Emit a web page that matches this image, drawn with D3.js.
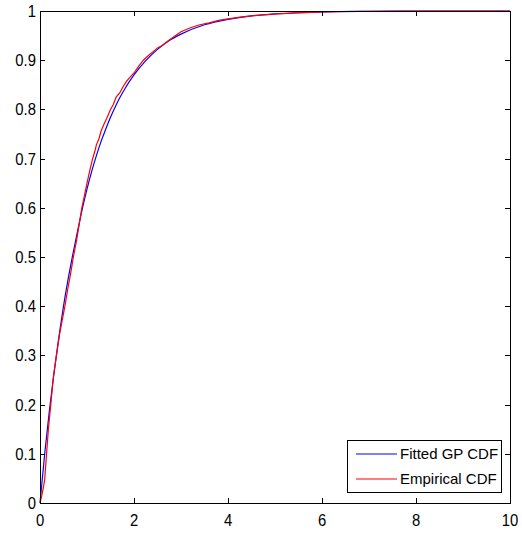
<!DOCTYPE html>
<html>
<head>
<meta charset="utf-8">
<script src="https://cdn.jsdelivr.net/npm/d3@7"></script>
<style>
  html, body { margin: 0; padding: 0; background: #fff; }
  svg { display: block; }
  text { font-family: "Liberation Sans", Arial, Helvetica, sans-serif; fill: #000; }
</style>
</head>
<body>
<svg id="chart" width="522" height="535"></svg>
<script>
// Fitted generalized Pareto CDF (smooth curve)
const fittedX = [0, 0.1, 0.2, 0.3, 0.4, 0.5, 0.6, 0.7, 0.8, 0.9, 1.0, 1.1, 1.2, 1.3, 1.4, 1.5, 1.6, 1.7, 1.8, 2.0, 2.25, 2.5, 2.75, 3.0, 3.5, 4.0, 4.5, 5.0, 6.0, 7.0, 8.0, 10.0];
const fittedY = [0, 0.1, 0.188, 0.266, 0.336, 0.4, 0.456, 0.506, 0.553, 0.598, 0.638, 0.674, 0.706, 0.735, 0.76, 0.784, 0.805, 0.824, 0.841, 0.87, 0.899, 0.922, 0.94, 0.953, 0.972, 0.983, 0.99, 0.994, 0.998, 0.9992, 0.9997, 1.0];

// Empirical CDF of the sample
const empiricalX = [0, 0.03, 0.07, 0.10, 0.14, 0.18, 0.23, 0.28, 0.35, 0.42, 0.53, 0.60, 0.65, 0.71, 0.78, 0.84, 0.89, 0.95, 1.00, 1.06, 1.12, 1.17, 1.20, 1.26, 1.30, 1.36, 1.42, 1.50, 1.56, 1.62, 1.70, 1.76, 1.84, 1.92, 2.00, 2.10, 2.20, 2.30, 2.40, 2.50, 2.60, 2.75, 2.90, 3.00, 3.20, 3.40, 3.60, 3.80, 4.00, 4.30, 4.60, 5.00, 5.50, 6.00, 6.50, 7.00, 8.00, 10.00];
const empiricalY = [0, 0.012, 0.03, 0.048, 0.10, 0.152, 0.20, 0.252, 0.30, 0.345, 0.40, 0.44, 0.465, 0.50, 0.535, 0.57, 0.60, 0.627, 0.65, 0.676, 0.70, 0.716, 0.728, 0.742, 0.756, 0.77, 0.782, 0.80, 0.81, 0.825, 0.834, 0.845, 0.857, 0.866, 0.874, 0.888, 0.90, 0.909, 0.917, 0.925, 0.93, 0.941, 0.951, 0.958, 0.966, 0.972, 0.976, 0.981, 0.984, 0.988, 0.991, 0.994, 0.996, 0.998, 0.999, 0.9995, 1.0, 1.0];

const xTicks = [0, 2, 4, 6, 8, 10];
const yTicks = [0, 0.1, 0.2, 0.3, 0.4, 0.5, 0.6, 0.7, 0.8, 0.9, 1];
const yTickLabels = ["0", "0.1", "0.2", "0.3", "0.4", "0.5", "0.6", "0.7", "0.8", "0.9", "1"];
const legendLabels = ["Fitted GP CDF", "Empirical CDF"];
const seriesColors = ["#0000ff", "#ff0000"];

const W = 522, H = 535;
const margin = { left: 40, right: 12, top: 11, bottom: 32 };
const x0 = margin.left, x1 = W - margin.right;
const y0 = H - margin.bottom, y1 = margin.top;

const x = d3.scaleLinear().domain([0, 10]).range([x0, x1]);
const y = d3.scaleLinear().domain([0, 1]).range([y0, y1]);

const svg = d3.select("#chart");
const tickLen = 5;
const tickFont = 16.5;
const legendFont = 15;

// Curves
const smoothLine = d3.line().x(d => x(d[0])).y(d => y(d[1])).curve(d3.curveMonotoneX);
const line = d3.line().x(d => x(d[0])).y(d => y(d[1]));
const fittedPts = fittedX.map((v, i) => [v, fittedY[i]]);
const empiricalPts = empiricalX.map((v, i) => [v, empiricalY[i]]);

svg.append("path").datum(fittedPts)
  .attr("d", smoothLine).attr("fill", "none")
  .attr("stroke", seriesColors[0]).attr("stroke-width", 1.2);
svg.append("path").datum(empiricalPts)
  .attr("d", line).attr("fill", "none")
  .attr("stroke", seriesColors[1]).attr("stroke-width", 1.2);

// Axes box with inward ticks on all four sides
const axisG = svg.append("g").attr("stroke", "#000").attr("stroke-width", 1).attr("shape-rendering", "crispEdges");
axisG.append("rect").attr("x", x0).attr("y", y1).attr("width", x1 - x0).attr("height", y0 - y1).attr("fill", "none");

xTicks.forEach(t => {
  const px = Math.round(x(t)) + 0.5;
  axisG.append("line").attr("x1", px).attr("x2", px).attr("y1", y0).attr("y2", y0 - tickLen);
  axisG.append("line").attr("x1", px).attr("x2", px).attr("y1", y1).attr("y2", y1 + tickLen);
});
yTicks.forEach(t => {
  const py = Math.round(y(t)) + 0.5;
  axisG.append("line").attr("x1", x0).attr("x2", x0 + tickLen).attr("y1", py).attr("y2", py);
  axisG.append("line").attr("x1", x1).attr("x2", x1 - tickLen).attr("y1", py).attr("y2", py);
});

// Tick labels (slightly condensed glyphs)
svg.append("g").selectAll("text").data(xTicks).join("text")
  .attr("transform", d => `translate(${x(d)},${y0 + 23}) scale(0.9,1)`)
  .attr("text-anchor", "middle").attr("font-size", tickFont)
  .text(d => d);

svg.append("g").selectAll("text").data(yTicks).join("text")
  .attr("transform", d => `translate(${x0 - 4},${y(d)}) scale(0.9,1)`)
  .attr("dy", "0.36em")
  .attr("text-anchor", "end").attr("font-size", tickFont)
  .text((d, i) => yTickLabels[i]);

// Legend
const lg = svg.append("g");
lg.append("rect").attr("x", 347.5).attr("y", 440.5).attr("width", 154).attr("height", 52)
  .attr("fill", "#fff").attr("stroke", "#000").attr("stroke-width", 1);
legendLabels.forEach((lab, i) => {
  const ly = 454 + i * 25;
  lg.append("line").attr("x1", 356).attr("x2", 397).attr("y1", ly).attr("y2", ly)
    .attr("stroke", seriesColors[i]).attr("stroke-width", 1.2);
  lg.append("text").attr("x", 400).attr("y", ly).attr("dy", "0.36em")
    .attr("font-size", legendFont).text(lab);
});
</script>
</body>
</html>
